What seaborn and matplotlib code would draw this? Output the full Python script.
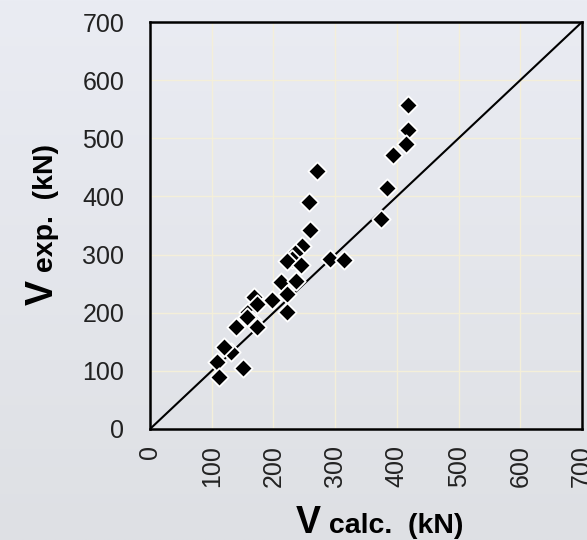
import numpy as np
import pandas as pd
import matplotlib
matplotlib.use("Agg")
import matplotlib.pyplot as plt
import seaborn as sns

# ---- data ----
v_calc = [418, 418, 415, 394, 384, 375, 271, 258, 259, 246, 235, 230, 222, 245,
          292, 314, 213, 236, 197, 222, 222, 168, 159, 165, 173, 139, 131, 120,
          109, 112, 150, 173, 157]
v_exp = [557, 514, 491, 471, 415, 362, 443, 391, 343, 314, 302, 292, 289, 282,
         293, 291, 253, 255, 222, 232, 202, 227, 202, 188, 175, 175, 133, 141,
         115, 89, 105, 215, 192]
ticks = [0, 100, 200, 300, 400, 500, 600, 700]
tick_labels = [str(t) for t in ticks]
diag = [0, 700]

df = pd.DataFrame({"calc": v_calc, "exp": v_exp})

sns.set_style("white")
plt.rcParams["font.family"] = ["Liberation Sans Narrow", "Liberation Sans", "DejaVu Sans"]

W, H = 587, 540
fig = plt.figure(figsize=(W / 100, H / 100), dpi=100)

# background gradient
bg = fig.add_axes([0, 0, 1, 1], zorder=-5)
top = np.array([0xea, 0xec, 0xf3]) / 255
bot = np.array([0xde, 0xe0, 0xe4]) / 255
grad = np.linspace(0, 1, 256)[:, None, None]
img = top * (1 - grad) + bot * grad
bg.imshow(np.repeat(img, 2, axis=1), aspect="auto", extent=[0, 1, 0, 1])
bg.set_axis_off()

left, right, top_px, bottom_px = 150, 582, 22, 429
ax = fig.add_axes([left / W, 1 - bottom_px / H, (right - left) / W, (bottom_px - top_px) / H])
ax.set_facecolor("none")

ax.grid(True, color="#f4efd9", linewidth=1.0)
ax.set_axisbelow(True)

ax.plot(diag, diag, color="black", linewidth=1.5, zorder=2)
sns.scatterplot(data=df, x="calc", y="exp", ax=ax, marker="D", s=88,
                color="black", edgecolor="white", linewidth=1.3, zorder=3)

ax.set_xlim(0, 700)
ax.set_ylim(0, 700)
ax.set_xticks(ticks)
ax.set_yticks(ticks)
ax.set_xticklabels(tick_labels, rotation=90)
ax.set_yticklabels(tick_labels)
ax.set_xlabel("")
ax.set_ylabel("")
for s in ax.spines.values():
    s.set_color("black")
    s.set_linewidth(1.8)
ax.tick_params(axis="both", direction="out", length=5.5, width=1.4, color="black",
               labelsize=18, labelcolor="#222222")
ax.tick_params(axis="y", pad=13)
ax.tick_params(axis="x", pad=6)

# composite axis labels: big "V" + smaller text on the same baseline
renderer = fig.canvas.get_renderer()
lab_font = ["Liberation Sans", "DejaVu Sans"]

# x label
t1 = fig.text(296 / W, (H - 533) / H, "V", fontsize=27, weight="bold",
              family=lab_font, ha="left", va="baseline", color="black")
bb = t1.get_window_extent(renderer)
fig.text(bb.x1 / W, (H - 533) / H, " calc.  (kN)", fontsize=20.5, weight="bold",
         family=lab_font, ha="left", va="baseline", color="black")

# y label
t3 = fig.text(53 / W, (H - 305) / H, "V", fontsize=27, weight="bold",
              family=lab_font, rotation=90, rotation_mode="anchor",
              ha="left", va="baseline", color="black")
bb = t3.get_window_extent(renderer)
fig.text(53 / W, bb.y1 / H, " exp.  (kN)", fontsize=20.5, weight="bold",
         family=lab_font, rotation=90, rotation_mode="anchor",
         ha="left", va="baseline", color="black")

fig.savefig("out.png", dpi=100)
